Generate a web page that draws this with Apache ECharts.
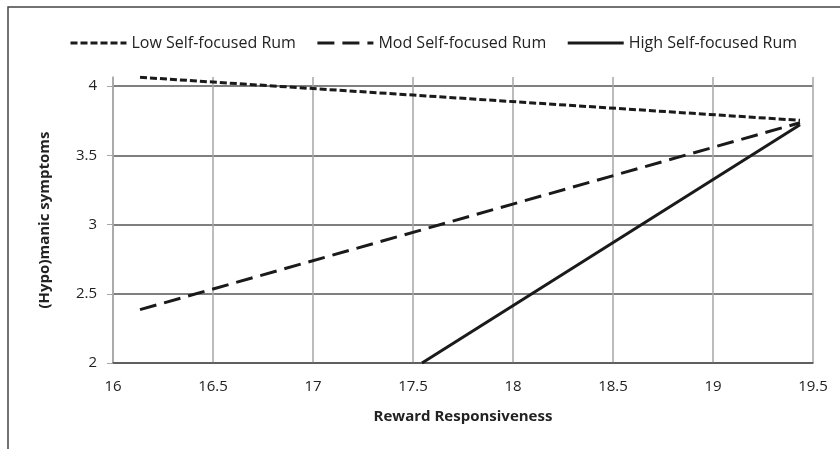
<!DOCTYPE html>
<html>
<head>
<meta charset="utf-8">
<script src="https://cdn.jsdelivr.net/npm/echarts@6/dist/echarts.min.js"></script>
<style>
  html, body { margin: 0; padding: 0; background: #fff; }
  #main { width: 840px; height: 449px; }
</style>
</head>
<body>
<div id="main"></div>
<script>
// values
var seriesNames = ['Low Self-focused Rum', 'Mod Self-focused Rum', 'High Self-focused Rum']
var lowPoints = [[16.135, 4.063], [19.435, 3.752]]
var modPoints = [[16.135, 2.385], [19.435, 3.735]]
var highPoints = [[17.545, 2.0], [19.435, 3.72]]
var xTicks = [16, 16.5, 17, 17.5, 18, 18.5, 19, 19.5]
var yTicks = [2, 2.5, 3, 3.5, 4]

var font = 'Open Sans'
var chartDom = document.getElementById('main')
var myChart = echarts.init(chartDom)
var option

var lineBase = {
  type: 'line',
  symbol: 'none',
  silent: true,
  animation: false
}

option = {
  backgroundColor: '#ffffff',
  animation: false,
  textStyle: { fontFamily: font },
  graphic: [{
    type: 'rect',
    shape: { x: 8, y: 7, width: 900, height: 500 },
    style: { fill: 'none', stroke: '#444', lineWidth: 1.5 }
  }],
  legend: {
    left: 64,
    top: 30,
    width: 770,
    itemWidth: 56,
    itemHeight: 14,
    itemGap: 20,
    itemStyle: { opacity: 0 },
    lineStyle: { width: 3 },
    textStyle: { fontFamily: font, fontSize: 16, color: '#222' },
    data: seriesNames
  },
  grid: {
    left: 113,
    right: 27,
    top: 77,
    bottom: 86
  },
  xAxis: {
    type: 'value',
    min: xTicks[0],
    max: xTicks[xTicks.length - 1],
    interval: 0.5,
    name: 'Reward Responsiveness',
    nameLocation: 'middle',
    nameGap: 46,
    nameTextStyle: { fontFamily: font, fontSize: 15, fontWeight: 'bold', color: '#222' },
    axisLine: { show: true, lineStyle: { color: '#555', width: 1.5 } },
    axisTick: { show: false },
    axisLabel: { margin: 16, fontSize: 15, color: '#222', fontFamily: font },
    splitLine: { show: true, lineStyle: { color: '#a6a6a6', width: 1.5 } }
  },
  yAxis: {
    type: 'value',
    min: yTicks[0],
    max: 4.065,
    interval: 0.5,
    name: '(Hypo)manic symptoms',
    nameLocation: 'middle',
    nameGap: 61,
    nameTextStyle: { fontFamily: font, fontSize: 15, fontWeight: 'bold', color: '#222' },
    axisLine: { show: true, lineStyle: { color: '#a6a6a6', width: 1.5 } },
    axisTick: { show: true, inside: false, length: 6, lineStyle: { color: '#a6a6a6' } },
    axisLabel: {
      margin: 16,
      fontSize: 15,
      color: '#222',
      fontFamily: font,
      showMaxLabel: false,
      formatter: function (v) {
        return yTicks.indexOf(v) >= 0 ? String(v) : ''
      }
    },
    splitLine: {
      show: true,
      lineStyle: { color: ['#555', '#555', '#555', '#555', '#555', 'rgba(0,0,0,0)'], width: 1.5 }
    }
  },
  series: [
    Object.assign({}, lineBase, {
      name: seriesNames[0],
      data: lowPoints,
      itemStyle: { color: '#1a1a1a' },
      lineStyle: { color: '#1a1a1a', width: 3, type: [7, 3] }
    }),
    Object.assign({}, lineBase, {
      name: seriesNames[1],
      data: modPoints,
      itemStyle: { color: '#1a1a1a' },
      lineStyle: { color: '#1a1a1a', width: 3, type: [17, 8] }
    }),
    Object.assign({}, lineBase, {
      name: seriesNames[2],
      data: highPoints,
      itemStyle: { color: '#1a1a1a' },
      lineStyle: { color: '#1a1a1a', width: 3, type: 'solid' }
    })
  ]
}
option && myChart.setOption(option)
</script>
</body>
</html>
